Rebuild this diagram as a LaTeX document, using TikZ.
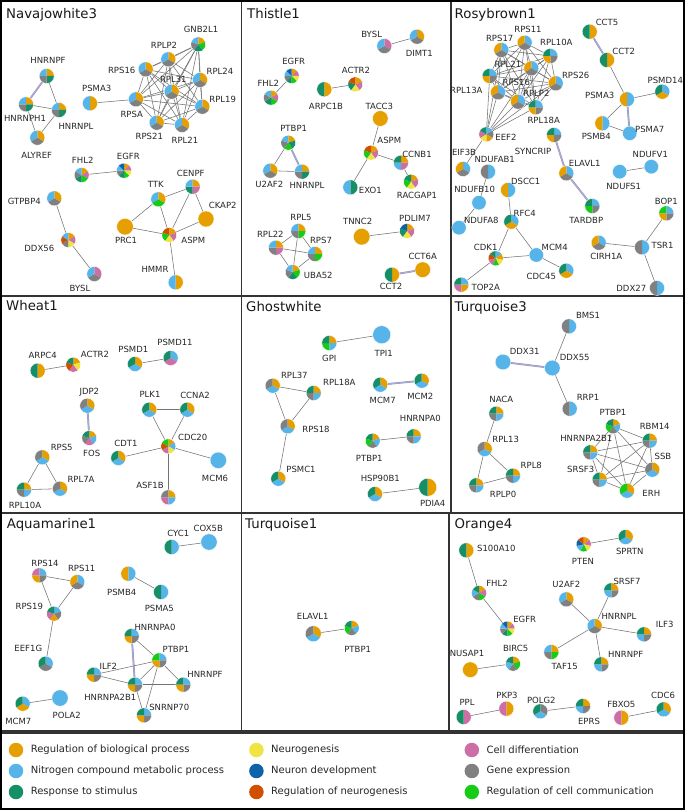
\documentclass[tikz,border=0pt]{standalone}
\usepackage{fontspec}
\setmainfont{DejaVu Sans}
\pgfdeclarelayer{bg}
\pgfdeclarelayer{edges}
\pgfsetlayers{bg,edges,main}
\definecolor{cO}{HTML}{E69F00}
\definecolor{cB}{HTML}{56B4E9}
\definecolor{cG}{HTML}{168F68}
\definecolor{cY}{HTML}{F0E442}
\definecolor{cN}{HTML}{0D62A8}
\definecolor{cR}{HTML}{D05000}
\definecolor{cP}{HTML}{CC6FA6}
\definecolor{cA}{HTML}{808080}
\definecolor{cL}{HTML}{16CC16}
\definecolor{lavc}{HTML}{A8A8EE}
\tikzset{
  gnode/.style={circle, inner sep=0pt, outer sep=0pt, draw=none},
  lab/.style={inner sep=0pt, font=\fontsize{8.5}{10}\selectfont, text=black!85},
  ttl/.style={anchor=base west, inner sep=0pt, font=\fontsize{13.3}{16}\selectfont, text=black!90},
  lnk/.style={draw=black!55, line width=0.55pt},
  dlnk/.style={draw=black!40, line width=0.4pt, double=lavc, double distance=1pt},
  panel/.style={draw=black!80, line width=1.2pt},
  legtxt/.style={anchor=west, inner sep=0pt, font=\fontsize{10}{12}\selectfont, text=black!85},
}
\newcommand{\piechart}[3]{%
  \gdef\pcount{0}%
  \foreach \pc in {#3} {\xdef\pcount{\the\numexpr\pcount+1\relax}}%
  \foreach \pc [count=\pi from 0] in {#3} {%
    \pgfmathsetmacro\pgsa{90-360*\pi/\pcount}%
    \pgfmathsetmacro\pgea{90-360*(\pi+1)/\pcount}%
    \fill[fill=\pc] (#1.center) -- ++(\pgsa:#2pt) arc[start angle=\pgsa, end angle=\pgea, radius=#2pt] -- cycle;%
  }%
  \draw[white, line width=0.3pt] (#1.center) circle[radius=#2pt];%
}
\newcommand{\gn}[8][7.5]{%
  \node[gnode, minimum size={2*#1pt}] (#2) at (#3,#4) {};%
  \piechart{#2}{#1}{#5}%
  \node[lab] (#2l) at (#7,#8) {#6};%
}
\newcommand{\clique}[1]{%
  \foreach \qa [count=\qi] in {#1} {%
    \foreach \qb [count=\qj] in {#1} {%
      \ifnum\qi<\qj \draw[lnk] (\qa) -- (\qb);\fi
    }}}
\begin{document}
\begin{tikzpicture}[x=1pt,y=-1pt]
\useasboundingbox (0,0) rectangle (685,810);
\begin{pgfonlayer}{bg}
\fill[white] (0,0) rectangle (685,810);
\end{pgfonlayer}
% panels
\draw[panel] (1.5,1.5) rectangle (241.5,296);
\draw[panel] (241.5,1.5) rectangle (451,296);
\draw[panel] (451,1.5) rectangle (683.5,296);
\draw[panel] (1.5,296) rectangle (241.5,513);
\draw[panel] (241.5,296) rectangle (451,513);
\draw[panel] (451,296) rectangle (683.5,513);
\draw[panel] (1.5,513) rectangle (241.5,731);
\draw[panel] (241.5,513) rectangle (449,731);
\draw[panel] (449,513) rectangle (683.5,731);
\draw[panel] (1.5,733) rectangle (683.5,808.5);
\draw[black, line width=2pt] (1,1) rectangle (684,809);
% titles
\node[ttl] (t1) at (6,18.5) {Navajowhite3};
\node[ttl] (t2) at (247,19) {Thistle1};
\node[ttl] (t3) at (454.5,19) {Rosybrown1};
\node[ttl] (t4) at (6,310.7) {Wheat1};
\node[ttl] (t5) at (246,311) {Ghostwhite};
\node[ttl] (t6) at (454.5,311) {Turquoise3};
\node[ttl] (t7) at (6.7,528.5) {Aquamarine1};
\node[ttl] (t8) at (245,528.5) {Turquoise1};
\node[ttl] (t9) at (454.5,528.5) {Orange4};
% ---------- Navajowhite3
\gn{aHNRNPF}{46.7}{76}{cO,cG,cA,cB}{HNRNPF}{48}{60.7}
\gn{aHNRNPH1}{26}{104.3}{cO,cG,cA,cB}{HNRNPH1}{25}{118}
\gn{aHNRNPL}{59}{110}{cO,cG,cA,cB}{HNRNPL}{76}{126}
\gn{aALYREF}{37.3}{137.7}{cO,cA,cB}{ALYREF}{36.7}{155}
\gn{aPSMA3}{90}{103.3}{cO,cB}{PSMA3}{96.7}{88.3}
\gn{aRPSA}{136}{99.3}{cO,cA,cB}{RPSA}{131.7}{114}
\gn{aRPS16}{145.7}{69.3}{cO,cA,cB}{RPS16}{121.7}{70}
\gn{aRPLP2}{168.3}{59.3}{cO,cA,cB}{RPLP2}{164}{45}
\gn{aGNB2L1}{198.3}{44.3}{cO,cL,cG,cA,cB}{GNB2L1}{201}{29.3}
\gn{aRPL24}{200}{80}{cO,cA,cB}{RPL24}{220}{71.7}
\gn{aRPL31}{171.7}{91.7}{cO,cA,cB}{RPL31}{173.3}{79}
\gn{aRPL19}{202.3}{106.7}{cO,cA,cB}{RPL19}{222.7}{99}
\gn{aRPS21}{156.7}{122.7}{cO,cA,cB}{RPS21}{149.3}{136}
\gn{aRPL21}{182}{125}{cO,cA,cB}{RPL21}{185}{140}
\gn{aFHL2}{81.7}{175}{cO,cP,cL,cG,cA,cB}{FHL2}{82.7}{160}
\gn{aEGFR}{124}{170.7}{cO,cP,cY,cL,cG,cA,cB,cN}{EGFR}{128.3}{156}
\gn{aGTPBP4}{54.3}{198.3}{cO,cA,cB}{GTPBP4}{24.3}{201.7}
\gn{aDDX56}{68.3}{240}{cO,cP,cY,cA,cR,cB}{DDX56}{39.3}{248.3}
\gn{aBYSL}{94.3}{274}{cP,cA,cB}{BYSL}{80}{288.7}
\gn{aTTK}{158.3}{199.3}{cO,cL,cB}{TTK}{155.7}{184.3}
\gn{aCENPF}{192.7}{186.7}{cO,cP,cG,cB}{CENPF}{190.7}{173.3}
\gn[8]{aCKAP2}{206}{219}{cO}{CKAP2}{222.7}{205}
\gn[8.3]{aPRC1}{125}{226.7}{cO}{PRC1}{126}{240}
\gn{aASPM}{169.3}{235}{cO,cP,cY,cL,cR}{ASPM}{193.3}{240}
\gn{aHMMR}{175.7}{282.3}{cO,cB}{HMMR}{155}{269.7}
% ---------- Thistle1
\gn{bBYSL}{384.3}{46}{cP,cA,cB}{BYSL}{371.7}{34}
\gn{bDIMT1}{417}{36.7}{cO,cA,cB}{DIMT1}{419.3}{53.3}
\gn{bEGFR}{291.7}{76}{cO,cP,cY,cL,cG,cA,cB,cN}{EGFR}{293.7}{61.7}
\gn{bFHL2}{271}{97.7}{cO,cP,cL,cG,cA,cB}{FHL2}{268.3}{83.3}
\gn{bACTR2}{355.3}{84.3}{cO,cP,cY,cG,cR}{ACTR2}{356}{70.7}
\gn{bARPC1B}{324.3}{89.3}{cO,cG}{ARPC1B}{326}{106}
\gn[7.8]{bTACC3}{380.3}{118.5}{cO}{TACC3}{379.3}{106.5}
\gn{bASPM}{371}{152.7}{cO,cP,cY,cL,cR}{ASPM}{389.3}{140.7}
\gn{bCCNB1}{401}{162.7}{cO,cP,cB,cG}{CCNB1}{417}{154}
\gn{bRACGAP1}{411}{181.7}{cO,cP,cY,cL,cG}{RACGAP1}{417}{195}
\gn{bEXO1}{350.3}{187.3}{cG,cB}{EXO1}{370.3}{190}
\gn{bPTBP1}{288.3}{142.7}{cO,cG,cL,cA,cB}{PTBP1}{293.7}{128.3}
\gn{bU2AF2}{270.3}{170.7}{cO,cA,cB}{U2AF2}{269.3}{184.3}
\gn{bHNRNPL}{302}{171.7}{cO,cG,cA,cB}{HNRNPL}{307}{185}
\gn{bRPL5}{298.3}{231}{cO,cL,cA,cB}{RPL5}{301}{217.7}
\gn{bRPL22}{276}{247.7}{cO,cP,cA,cB}{RPL22}{270.3}{234}
\gn{bRPS7}{315}{254}{cO,cL,cA,cB}{RPS7}{321}{240}
\gn{bUBA52}{292.7}{272}{cO,cL,cG,cA,cB}{UBA52}{318.3}{275.3}
\gn[8.3]{bTNNC2}{361.7}{236.7}{cO}{TNNC2}{357.7}{221.7}
\gn{bPDLIM7}{407}{231}{cO,cP,cY,cG,cN}{PDLIM7}{415}{218.3}
\gn[7.8]{bCCT6A}{422.7}{269.7}{cO}{CCT6A}{422.7}{256.7}
\gn{bCCT2}{392}{274.7}{cO,cG}{CCT2}{391}{286.3}
% ---------- Rosybrown1
\gn{cRPS11}{524.7}{42.7}{cB,cA,cO}{RPS11}{528}{29.3}
\gn{cRPS17}{501.3}{50}{cB,cA,cO}{RPS17}{499.7}{38.3}
\gn{cRPL10A}{550.3}{56}{cB,cA,cO,cG}{RPL10A}{556.3}{42.7}
\gn{cRPL21}{531.3}{68.3}{cB,cA,cO}{RPL21}{508}{64}
\gn{cRPL13A}{489.7}{76}{cB,cA,cO,cG}{RPL13A}{466.3}{90.7}
\gn{cRPS26}{555.7}{83.3}{cB,cA,cO}{RPS26}{575.7}{75}
\gn{cRPS16}{498}{92.3}{cB,cA,cO}{RPS16}{516.3}{82.7}
\gn{cRPLP2}{518}{101.7}{cB,cA,cO}{RPLP2}{536.3}{93.3}
\gn{cRPL18A}{535.7}{107.3}{cB,cA,cO,cG}{RPL18A}{543.7}{120.7}
\gn{cEEF2}{486.3}{134.3}{cB,cA,cO,cY,cP,cG}{EEF2}{506}{137.3}
\gn{cEIF3B}{463}{169}{cB,cA,cO}{EIF3B}{464}{152.3}
\gn{cNDUFAB1}{488}{171.7}{cB,cA}{NDUFAB1}{494.7}{159.3}
\gn[7.2]{cNDUFB10}{479}{202.7}{cB}{NDUFB10}{474.7}{189.3}
\gn[7.2]{cNDUFA8}{459}{227.7}{cB}{NDUFA8}{481.3}{220}
\gn{cSYNCRIP}{554}{135}{cB,cA,cO,cG}{SYNCRIP}{533}{151.7}
\gn{cELAVL1}{566.3}{173.3}{cB,cA,cO}{ELAVL1}{584.7}{163.3}
\gn{cTARDBP}{592.3}{206}{cB,cA,cL,cG}{TARDBP}{586.3}{220}
\gn{cCCT5}{589.7}{31.7}{cO,cG}{CCT5}{607}{22.7}
\gn{cCCT2}{607}{60}{cO,cG}{CCT2}{623.7}{51.7}
\gn{cPSMA3}{627}{99.3}{cB,cO}{PSMA3}{599.7}{95.7}
\gn{cPSMD14}{662.3}{91.7}{cB,cO,cG}{PSMD14}{665.3}{80}
\gn{cPSMB4}{602.3}{123.3}{cB,cO}{PSMB4}{596.3}{136.7}
\gn[7.2]{cPSMA7}{629.7}{133.3}{cB}{PSMA7}{649.7}{129.3}
\gn[7.2]{cNDUFV1}{651.3}{166.7}{cB}{NDUFV1}{650.3}{154}
\gn[7.2]{cNDUFS1}{619.7}{171.7}{cB}{NDUFS1}{623.7}{186.7}
\gn{cDSCC1}{508}{190}{cB,cO}{DSCC1}{525.7}{181.7}
\gn{cRFC4}{511.3}{221.7}{cB,cO,cG}{RFC4}{524.7}{213.3}
\gn[7.2]{cMCM4}{536.3}{255}{cB}{MCM4}{554.7}{247.3}
\gn{cCDK1}{495.7}{258.3}{cB,cO,cY,cL,cP,cR,cG}{CDK1}{485.7}{247.3}
\gn{cTOP2A}{461.3}{284.7}{cB,cO,cP,cG}{TOP2A}{485.7}{287.3}
\gn{cCDC45}{566.3}{270.7}{cB,cO,cG}{CDC45}{541.3}{276.3}
\gn{cBOP1}{666.3}{213.3}{cB,cA,cO,cL}{BOP1}{666.3}{201.7}
\gn{cCIRH1A}{598.7}{242.7}{cB,cA,cO}{CIRH1A}{606.3}{256.7}
\gn{cTSR1}{642}{247.3}{cB,cA}{TSR1}{662.5}{245.7}
\gn{cDDX27}{657}{288}{cB,cA}{DDX27}{631.3}{288}
% ---------- Wheat1
\gn{dARPC4}{37.7}{370.7}{cO,cG}{ARPC4}{42.7}{355.3}
\gn{dACTR2}{73.3}{364.7}{cO,cY,cP,cR,cG}{ACTR2}{95}{354.7}
\gn{dPSMD1}{135}{364}{cO,cB,cG}{PSMD1}{133.3}{349.7}
\gn{dPSMD11}{170.7}{358}{cB,cP,cG}{PSMD11}{175}{342.3}
\gn{dJDP2}{87.3}{405.7}{cO,cB,cA}{JDP2}{89.3}{392}
\gn{dFOS}{89.3}{438}{cO,cB,cP,cA,cG}{FOS}{91.7}{453}
\gn{dPLK1}{149.3}{409.7}{cO,cB,cG}{PLK1}{150}{394}
\gn{dCCNA2}{187.3}{409.7}{cO,cB,cG}{CCNA2}{195}{395.3}
\gn{dCDC20}{168.3}{446.3}{cO,cB,cY,cP,cR,cL}{CDC20}{192.7}{437.3}
\gn{dCDT1}{118.3}{458}{cO,cB,cG}{CDT1}{126}{443}
\gn[8.2]{dMCM6}{218.3}{460.3}{cB}{MCM6}{215}{478}
\gn{dASF1B}{168.3}{497.3}{cO,cB,cP,cA}{ASF1B}{150}{485.7}
\gn{dRPS5}{42.3}{457.3}{cO,cB,cA}{RPS5}{61.7}{447.3}
\gn{dRPL10A}{24}{489.7}{cO,cB,cA,cG}{RPL10A}{25}{505.7}
\gn{dRPL7A}{60}{488.7}{cO,cB,cA}{RPL7A}{81}{479.7}
% ---------- Ghostwhite
\gn{eGPI}{329.3}{343}{cO,cB,cL,cG}{GPI}{329.3}{358}
\gn[9]{eTPI1}{381.7}{334.7}{cB}{TPI1}{383.7}{353}
\gn{eRPL37}{272.7}{385.7}{cO,cB,cA}{RPL37}{294.3}{375.3}
\gn{eRPL18A}{313.7}{393}{cO,cB,cA,cG}{RPL18A}{339.3}{382}
\gn{eRPS18}{287.7}{426.3}{cO,cB,cA}{RPS18}{316}{429}
\gn{ePSMC1}{278.3}{478.7}{cO,cB,cG}{PSMC1}{301}{469}
\gn{eMCM7}{380.3}{384.7}{cO,cB,cG}{MCM7}{382.7}{400.7}
\gn{eMCM2}{421.7}{380.7}{cO,cB,cG}{MCM2}{420.3}{396.3}
\gn{eHNRNPA0}{413.7}{436.3}{cO,cB,cA,cG}{HNRNPA0}{420.3}{418.7}
\gn{ePTBP1}{372.7}{440.7}{cO,cB,cA,cL,cG}{PTBP1}{369.3}{458.7}
\gn{eHSP90B1}{375}{494}{cO,cB,cG}{HSP90B1}{380.3}{478}
\gn[9]{ePDIA4}{427.7}{487.3}{cO,cG}{PDIA4}{432.7}{503}
% ---------- Turquoise3
\gn{fBMS1}{569}{326.3}{cB,cA}{BMS1}{588}{315.3}
\gn[7.8]{fDDX31}{503}{362}{cB}{DDX31}{524.7}{351.3}
\gn[7.8]{fDDX55}{552.3}{368}{cB}{DDX55}{574.7}{357.3}
\gn{fRRP1}{569.7}{408.7}{cB,cA}{RRP1}{588}{397.3}
\gn{fNACA}{496.3}{413.7}{cO,cB,cA,cG}{NACA}{501.3}{399.7}
\gn{fRPL13}{484.7}{449}{cO,cB,cA}{RPL13}{505.7}{439.7}
\gn{fRPL8}{513}{475.7}{cO,cB,cA,cG}{RPL8}{531.3}{465.3}
\gn{fRPLP0}{476.3}{485.3}{cO,cB,cA,cG}{RPLP0}{503}{494}
\gn{fPTBP1}{613}{426.3}{cO,cB,cA,cL,cG}{PTBP1}{613}{412}
\gn{fRBM14}{649.7}{440.7}{cO,cB,cA,cG}{RBM14}{654.7}{426.3}
\gn{fHNRNPA2B1}{590.3}{452.3}{cO,cB,cA,cG}{HNRNPA2B1}{586.3}{438.7}
\gn{fSSB}{652.3}{469.7}{cO,cB,cA}{SSB}{663}{456.3}
\gn{fSRSF3}{599.7}{479.7}{cO,cB,cA,cG}{SRSF3}{580.7}{469.7}
\gn{fERH}{627}{490.7}{cO,cB,cL}{ERH}{651.3}{493}
% ---------- Aquamarine1
\gn{gCYC1}{171.7}{547}{cB,cG}{CYC1}{178.3}{533.7}
\gn[8.2]{gCOX5B}{209}{542}{cB}{COX5B}{208.3}{528}
\gn{gRPS14}{39.3}{575.3}{cB,cA,cO,cP}{RPS14}{45}{563.7}
\gn{gRPS11}{77.3}{582}{cB,cA,cO}{RPS11}{81.7}{568}
\gn{gRPS19}{54}{613.7}{cB,cA,cO,cP,cG}{RPS19}{29.3}{606.3}
\gn{gEEF1G}{45.7}{663.7}{cB,cA,cG}{EEF1G}{28.3}{648.7}
\gn{gPSMB4}{128.3}{573.7}{cB,cO}{PSMB4}{121.7}{592}
\gn{gPSMA5}{161}{592}{cB,cG}{PSMA5}{159.3}{608.7}
\gn{gMCM7}{22.7}{703.7}{cB,cO,cG}{MCM7}{18.3}{721.3}
\gn[8.2]{gPOLA2}{60}{698}{cB}{POLA2}{66.7}{715.3}
\gn{gHNRNPA0}{131.7}{636}{cB,cA,cO,cG}{HNRNPA0}{155}{627}
\gn{gPTBP1}{159.3}{660.3}{cB,cA,cO,cL}{PTBP1}{176}{649.3}
\gn{gILF2}{94}{674.7}{cB,cA,cO,cG}{ILF2}{108.3}{666}
\gn{gHNRNPA2B1}{135}{684.7}{cB,cA,cO,cG}{HNRNPA2B1}{110.3}{697}
\gn{gHNRNPF}{183.3}{684.7}{cB,cA,cO,cG}{HNRNPF}{205}{674.7}
\gn{gSNRNP70}{144}{715.3}{cB,cA,cO,cG}{SNRNP70}{169.3}{707}
% ---------- Turquoise1
\gn[8]{hELAVL1}{313.3}{633.7}{cO,cB,cA}{ELAVL1}{312.7}{616}
\gn{hPTBP1}{351.7}{628}{cO,cB,cA,cL,cG}{PTBP1}{357.7}{649.3}
% ---------- Orange4
\gn{iS100A10}{466.3}{550.3}{cO,cG}{S100A10}{496.3}{548.7}
\gn{iFHL2}{479}{593}{cO,cP,cL,cA,cB,cG}{FHL2}{497}{583.7}
\gn{iEGFR}{507.3}{628.7}{cO,cP,cY,cL,cG,cA,cB,cN}{EGFR}{524.7}{619.3}
\gn[7.8]{iNUSAP1}{470.3}{669.7}{cO}{NUSAP1}{467}{653.7}
\gn{iBIRC5}{513}{663.7}{cO,cL,cA,cB,cG}{BIRC5}{515.7}{648}
\gn{iPTEN}{583.7}{544.3}{cO,cP,cY,cL,cB,cN,cR}{PTEN}{583}{561}
\gn{iSPRTN}{625.7}{537}{cO,cB,cG}{SPRTN}{629.7}{551.3}
\gn{iU2AF2}{566.3}{599.3}{cO,cA,cB}{U2AF2}{566.3}{584.7}
\gn{iSRSF7}{611.3}{590.3}{cO,cA,cB,cG}{SRSF7}{627}{581}
\gn{iHNRNPL}{594.7}{626}{cO,cA,cB}{HNRNPL}{619}{616}
\gn{iILF3}{644}{634.3}{cO,cA,cB,cG}{ILF3}{664.7}{624.3}
\gn{iTAF15}{551.3}{652}{cO,cL,cA,cB}{TAF15}{564.7}{666}
\gn{iHNRNPF}{601.3}{664.3}{cO,cA,cB,cG}{HNRNPF}{625.7}{654.7}
\gn{iPPL}{463.7}{717}{cP,cG}{PPL}{467}{702.7}
\gn{iPKP3}{506.3}{708.7}{cO,cP}{PKP3}{507}{695.3}
\gn{iPOLG2}{540.3}{711.3}{cA,cB,cG}{POLG2}{541.3}{700.3}
\gn{iEPRS}{583}{706}{cO,cA,cB,cG}{EPRS}{589}{721.3}
\gn{iFBXO5}{621.3}{717.7}{cO,cP}{FBXO5}{621.3}{704.3}
\gn{iCDC6}{663.7}{709.3}{cO,cB,cG}{CDC6}{663}{695.3}
% ---------- edges
\begin{pgfonlayer}{edges}
\draw[dlnk] (aHNRNPF) -- (aHNRNPH1);
\draw[lnk] (aHNRNPF) -- (aHNRNPL);
\draw[lnk] (aHNRNPH1) -- (aHNRNPL);
\draw[lnk] (aHNRNPH1) -- (aALYREF);
\draw[lnk] (aHNRNPL) -- (aALYREF);
\draw[lnk] (aPSMA3) -- (aRPSA);
\clique{aRPSA,aRPS16,aRPLP2,aGNB2L1,aRPL24,aRPL31,aRPL19,aRPS21,aRPL21}
\draw[lnk] (aFHL2) -- (aEGFR);
\draw[lnk] (aGTPBP4) -- (aDDX56);
\draw[lnk] (aDDX56) -- (aBYSL);
\draw[lnk] (aTTK) -- (aCENPF);
\draw[lnk] (aTTK) -- (aPRC1);
\draw[lnk] (aTTK) -- (aASPM);
\draw[lnk] (aCENPF) -- (aCKAP2);
\draw[lnk] (aCENPF) -- (aASPM);
\draw[lnk] (aPRC1) -- (aASPM);
\draw[lnk] (aCKAP2) -- (aASPM);
\draw[lnk] (aASPM) -- (aHMMR);
%
\draw[lnk] (bBYSL) -- (bDIMT1);
\draw[lnk] (bEGFR) -- (bFHL2);
\draw[lnk] (bARPC1B) -- (bACTR2);
\draw[lnk] (bTACC3) -- (bASPM);
\draw[lnk] (bASPM) -- (bCCNB1);
\draw[lnk] (bCCNB1) -- (bRACGAP1);
\draw[lnk] (bASPM) -- (bEXO1);
\draw[lnk] (bPTBP1) -- (bU2AF2);
\draw[dlnk] (bPTBP1) -- (bHNRNPL);
\draw[lnk] (bU2AF2) -- (bHNRNPL);
\clique{bRPL5,bRPL22,bRPS7,bUBA52}
\draw[lnk] (bTNNC2) -- (bPDLIM7);
\draw[dlnk] (bCCT2) -- (bCCT6A);
%
\clique{cRPS11,cRPS17,cRPL10A,cRPL21,cRPL13A,cRPS26,cRPS16,cRPLP2,cRPL18A}
\foreach \t in {cRPL13A,cRPS17,cRPS16,cRPLP2,cRPL18A,cRPL21,cRPS26} {\draw[lnk] (cEEF2) -- (\t);}
\draw[lnk] (cEEF2) -- (cEIF3B);
\draw[lnk] (cNDUFAB1) -- (cNDUFB10);
\draw[lnk] (cNDUFB10) -- (cNDUFA8);
\draw[dlnk] (cSYNCRIP) -- (cELAVL1);
\draw[dlnk] (cELAVL1) -- (cTARDBP);
\draw[dlnk] (cCCT5) -- (cCCT2);
\draw[lnk] (cCCT2) -- (cPSMA3);
\draw[lnk] (cPSMA3) -- (cPSMD14);
\draw[lnk] (cPSMA3) -- (cPSMB4);
\draw[lnk] (cPSMB4) -- (cPSMA7);
\draw[dlnk] (cPSMA3) -- (cPSMA7);
\draw[lnk] (cNDUFS1) -- (cNDUFV1);
\draw[lnk] (cDSCC1) -- (cRFC4);
\draw[lnk] (cRFC4) -- (cCDK1);
\draw[lnk] (cRFC4) -- (cMCM4);
\draw[lnk] (cCDK1) -- (cMCM4);
\draw[lnk] (cCDK1) -- (cTOP2A);
\draw[lnk] (cMCM4) -- (cCDC45);
\draw[lnk] (cBOP1) -- (cTSR1);
\draw[lnk] (cCIRH1A) -- (cTSR1);
\draw[lnk] (cTSR1) -- (cDDX27);
%
\draw[lnk] (dARPC4) -- (dACTR2);
\draw[lnk] (dPSMD1) -- (dPSMD11);
\draw[dlnk] (dJDP2) -- (dFOS);
\draw[lnk] (dPLK1) -- (dCCNA2);
\draw[lnk] (dPLK1) -- (dCDC20);
\draw[lnk] (dCCNA2) -- (dCDC20);
\draw[lnk] (dCDT1) -- (dCDC20);
\draw[lnk] (dCDC20) -- (dMCM6);
\draw[lnk] (dCDC20) -- (dASF1B);
\draw[lnk] (dRPS5) -- (dRPL10A);
\draw[lnk] (dRPS5) -- (dRPL7A);
\draw[lnk] (dRPL10A) -- (dRPL7A);
%
\draw[lnk] (eGPI) -- (eTPI1);
\draw[lnk] (eRPL37) -- (eRPL18A);
\draw[lnk] (eRPL37) -- (eRPS18);
\draw[lnk] (eRPL18A) -- (eRPS18);
\draw[lnk] (eRPS18) -- (ePSMC1);
\draw[dlnk] (eMCM7) -- (eMCM2);
\draw[lnk] (ePTBP1) -- (eHNRNPA0);
\draw[lnk] (eHSP90B1) -- (ePDIA4);
%
\draw[lnk] (fBMS1) -- (fDDX55);
\draw[dlnk] (fDDX31) -- (fDDX55);
\draw[lnk] (fDDX55) -- (fRRP1);
\draw[lnk] (fNACA) -- (fRPL13);
\draw[lnk] (fRPL13) -- (fRPL8);
\draw[lnk] (fRPL13) -- (fRPLP0);
\draw[lnk] (fRPL8) -- (fRPLP0);
\clique{fPTBP1,fRBM14,fHNRNPA2B1,fSSB,fSRSF3,fERH}
%
\draw[lnk] (gCYC1) -- (gCOX5B);
\draw[lnk] (gRPS14) -- (gRPS11);
\draw[lnk] (gRPS14) -- (gRPS19);
\draw[lnk] (gRPS11) -- (gRPS19);
\draw[lnk] (gRPS19) -- (gEEF1G);
\draw[lnk] (gPSMB4) -- (gPSMA5);
\draw[lnk] (gMCM7) -- (gPOLA2);
\draw[lnk] (gHNRNPA0) -- (gPTBP1);
\draw[dlnk] (gHNRNPA0) -- (gHNRNPA2B1);
\draw[lnk] (gILF2) -- (gPTBP1);
\draw[lnk] (gILF2) -- (gHNRNPA2B1);
\draw[lnk] (gPTBP1) -- (gHNRNPA2B1);
\draw[lnk] (gPTBP1) -- (gHNRNPF);
\draw[lnk] (gPTBP1) -- (gSNRNP70);
\draw[lnk] (gHNRNPA2B1) -- (gHNRNPF);
\draw[lnk] (gHNRNPA2B1) -- (gSNRNP70);
%
\draw[lnk] (hELAVL1) -- (hPTBP1);
%
\draw[lnk] (iS100A10) -- (iFHL2);
\draw[lnk] (iFHL2) -- (iEGFR);
\draw[lnk] (iNUSAP1) -- (iBIRC5);
\draw[lnk] (iPTEN) -- (iSPRTN);
\foreach \t in {iU2AF2,iSRSF7,iILF3,iTAF15,iHNRNPF} {\draw[lnk] (iHNRNPL) -- (\t);}
\draw[lnk] (iPPL) -- (iPKP3);
\draw[lnk] (iPOLG2) -- (iEPRS);
\draw[lnk] (iFBXO5) -- (iCDC6);
\end{pgfonlayer}
% ---------- legend
\foreach \lx/\ly/\lc/\lt [count=\k] in {
  16/750/cO/Regulation of biological process,
  16/771/cB/Nitrogen compound metabolic process,
  16/792/cG/Response to stimulus,
  256.4/750/cY/Neurogenesis,
  256.4/771/cN/Neuron development,
  256.4/792/cR/Regulation of neurogenesis,
  471.8/750/cP/Cell differentiation,
  471.8/771/cA/Gene expression,
  471.8/792/cL/Regulation of cell communication} {
  \node[gnode, minimum size=14.5pt, fill=\lc] (lg\k) at (\lx,\ly) {};
  \node[legtxt] (lgt\k) at (\lx+14.6,\ly) {\lt};
}
\end{tikzpicture}
\end{document}
